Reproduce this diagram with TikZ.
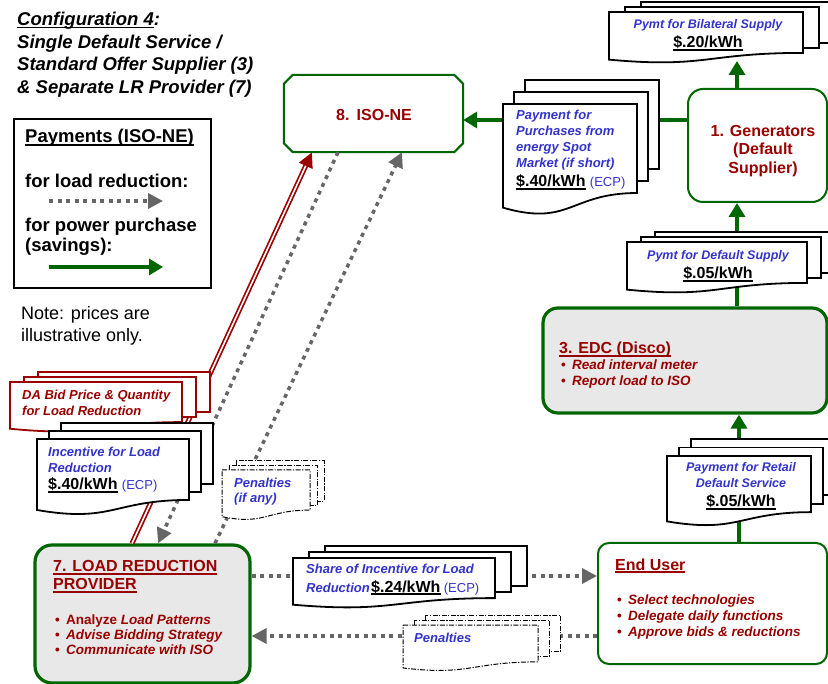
\documentclass[tikz,border=0pt]{standalone}
\usepackage{fontspec}
\setmainfont{Liberation Sans}
\usetikzlibrary{arrows.meta,calc}
\definecolor{dred}{RGB}{153,0,0}
\definecolor{tblue}{RGB}{51,51,204}
\definecolor{dgreen}{RGB}{0,102,0}
\definecolor{agray}{RGB}{102,102,102}
\definecolor{bgray}{RGB}{232,232,232}
\newcommand\myul[1]{\setbox0\hbox{#1}\rlap{\rule[-2.8pt]{\wd0}{1.6pt}}\box0}
\newcommand\bpt{\makebox[11pt][l]{\upshape •}}
\newcommand\mdoc[7]{%
 \foreach \k in {2,1}{\path[#1] ({#2+\k*#6},{#3-\k*#7}) rectangle ({#2+#4+\k*#6},{#3+0.802*#5-\k*#7});}
 \path[#1] (#2,#3) -- ({#2+#4},#3) -- ({#2+#4},{#3+0.802*#5}) .. controls ({#2+0.5*#4},{#3+0.802*#5}) and ({#2+0.5*#4},{#3+1.1075*#5}) .. (#2,{#3+0.934*#5}) -- cycle;}
\tikzset{
 every node/.style={inner sep=0pt},
 title/.style={anchor=base west, font=\fontsize{18.5}{22}\selectfont\bfseries\itshape},
 legt/.style={anchor=base west, font=\fontsize{18.5}{20}\selectfont\bfseries},
 notet/.style={anchor=base west, font=\fontsize{18}{20}\selectfont},
 lbl/.style={anchor=base west, font=\fontsize{13}{16}\selectfont\bfseries\itshape, text=tblue},
 lblc/.style={anchor=base, font=\fontsize{12.5}{16}\selectfont\bfseries\itshape, text=tblue},
 price/.style={anchor=base west, font=\fontsize{16}{18}\selectfont\bfseries},
 pricec/.style={price, anchor=base},
 ecp/.style={anchor=base west, font=\fontsize{13}{16}\selectfont, text=tblue},
 doc/.style={draw=black, fill=white, line width=1.8pt},
 reddoc/.style={draw=dred, fill=white, line width=1.8pt},
 dashdoc/.style={draw=black, fill=white, line width=1pt, dash pattern=on 5pt off 1.5pt on 1.2pt off 1.5pt},
 garrow/.style={draw=dgreen, line width=4pt, -{Triangle[length=14pt,width=16pt]}},
 darrow/.style={draw=agray, line width=3.5pt, dash pattern=on 4pt off 4.5pt, -{Triangle[length=15pt,width=15pt]}},
 redarrow/.style={draw=dred, line width=5pt, -{Triangle[length=15pt,width=14pt]}},
 boxtxt/.style={anchor=base, font=\fontsize{16}{19}\selectfont\bfseries, text=dred},
 head/.style={anchor=base west, font=\fontsize{16}{18}\selectfont\bfseries, text=dred},
 bul/.style={anchor=base west, font=\fontsize{13.5}{15}\selectfont\bfseries\itshape, text=dred},
 thickbox/.style={draw=dgreen, fill=bgray, line width=3.2pt, rounded corners=15pt},
 thinbox/.style={draw=dgreen, fill=white, line width=2pt},
}
\begin{document}
\begin{tikzpicture}[x=1pt,y=-1pt]
\useasboundingbox (0,0) rectangle (828,684);
\clip (0,0) rectangle (828,684);
\fill[white] (0,0) rectangle (828,684);

% ---------- title ----------
\node[title] (t1) at (17,25.5) {\myul{Configuration 4}:};
\node[title] (t2) at (17,48.5) {Single Default Service /};
\node[title] (t3) at (17,71) {Standard Offer Supplier (3)};
\node[title] (t4) at (17,94) {\& Separate LR Provider (7)};

% ---------- legend ----------
\node[draw, line width=2pt, minimum width=197pt, minimum height=169pt] (leg) at (112.5,203.5) {};
\node[legt] (lg1) at (25,143) {\myul{Payments (ISO-NE)}};
\node[legt] (lg2) at (25,188) {for load reduction:};
\node[legt] (lg3) at (25,232) {for power purchase};
\node[legt] (lg4) at (25,252) {(savings):};
\coordinate (la1) at (49,201); \coordinate (la2) at (163,201);
\coordinate (lb1) at (49,267); \coordinate (lb2) at (163,267);
\draw[darrow] (la1) -- (la2);
\draw[garrow] (lb1) -- (lb2);
\node[notet] (n1) at (21,320) {Note: prices are};
\node[notet] (n2) at (21,342) {illustrative only.};

% ---------- boxes ----------
\node[minimum width=179pt, minimum height=77pt] (iso) at (373.5,113.5) {};
\draw[dgreen, line width=2pt, fill=white] ([xshift=9pt]iso.north west) -- ([xshift=-9pt]iso.north east) -- ([yshift=-9pt]iso.north east) -- ([yshift=9pt]iso.south east) -- ([xshift=-9pt]iso.south east) -- ([xshift=9pt]iso.south west) -- ([yshift=9pt]iso.south west) -- ([yshift=-9pt]iso.north west) -- cycle;
\node[boxtxt] (isot) at (374,120.5) {8.\hspace{0.45em}ISO-NE};

\node[thinbox, rounded corners=15pt, minimum width=139pt, minimum height=113pt] (gen) at (757.5,145.5) {};
\node[boxtxt] (gen1) at (763,137) {1. Generators};
\node[boxtxt] (gen2) at (763,155) {(Default};
\node[boxtxt] (gen3) at (763,174) {Supplier)};

\node[thickbox, minimum width=284pt, minimum height=105pt] (edc) at (685,360.5) {};
\node[head] (edch) at (559,354) {\myul{3. EDC (Disco)}};
\node[bul] (edc1) at (561,370) {\bpt Read interval meter};
\node[bul] (edc2) at (561,386) {\bpt Report load to ISO};

\node[thinbox, rounded corners=11pt, minimum width=229pt, minimum height=121pt] (eu) at (712.5,603.5) {};
\node[head] (euh) at (615,570) {\myul{End User}};
\node[bul] (eu1) at (617,604) {\bpt Select technologies};
\node[bul] (eu2) at (617,620) {\bpt Delegate daily functions};
\node[bul] (eu3) at (617,636) {\bpt Approve bids \& reductions};

\node[thickbox, rounded corners=17pt, minimum width=215pt, minimum height=138pt] (lrp) at (142.5,614) {};
\node[head] (lrph1) at (53,572) {\myul{7. LOAD REDUCTION}};
\node[head] (lrph2) at (53,590) {\myul{PROVIDER}};
\node[bul] (lrp1) at (55,624) {\bpt{\upshape Analyze} Load Patterns};
\node[bul] (lrp2) at (55,639) {\bpt Advise Bidding Strategy};
\node[bul] (lrp3) at (55,654) {\bpt Communicate with ISO};

% ---------- connectors ----------
\coordinate (ya) at (0,120);
\coordinate (vx) at (737,0);
\coordinate (vx2) at (739,0);
\coordinate (yb) at (0,576);
\coordinate (yc) at (0,636);
\coordinate (r1) at (132,0); \coordinate (r2) at (312,0);
\coordinate (g1) at (338,0); \coordinate (g2) at (158,0);
\coordinate (g3) at (215,0); \coordinate (g4) at (402,0);
\coordinate (bilB) at (737,61);

\draw[garrow] (gen.west |- ya) -- (iso.east |- ya);
\draw[garrow] (edc.north -| vx) -- (gen.south -| vx);
\draw[garrow] (eu.north -| vx2) -- (edc.south -| vx2);
\draw[darrow] (lrp.east |- yb) -- (eu.west |- yb);
\draw[darrow] (eu.west |- yc) -- (lrp.east |- yc);
\draw[redarrow] (lrp.north -| r1) -- (iso.south -| r2);
\draw[white, line width=1.6pt, shorten >=15pt] (lrp.north -| r1) -- (iso.south -| r2);
\draw[darrow] (iso.south -| g1) -- (lrp.north -| g2);
\draw[darrow] (lrp.north -| g3) -- (iso.south -| g4);

% ---------- documents ----------
\mdoc{doc}{503}{104}{134}{111}{11}{12}
\node[lbl] (pay1) at (516,120) {Payment for};
\node[lbl] (pay2) at (516,136) {Purchases from};
\node[lbl] (pay3) at (516,152) {energy Spot};
\node[lbl] (pay4) at (516,168) {Market (if short)};
\node[price] (payp) at (516,187) {\myul{\$.40/kWh}};
\node[ecp] (paye) at ([xshift=4pt]payp.base east) {(ECP)};

\mdoc{doc}{609}{12}{194}{51}{16}{5}
\node[lblc] (bil1) at (708,29) {Pymt for Bilateral Supply};
\node[pricec] (bilp) at (708,48) {\myul{\$.20/kWh}};
\draw[garrow] (gen.north -| vx) -- (bilB);

\mdoc{doc}{627}{242}{180}{51}{14}{5}
\node[lblc] (def1) at (718,260) {Pymt for Default Supply};
\node[pricec] (defp) at (718,279) {\myul{\$.05/kWh}};

\mdoc{doc}{667}{456}{144}{70}{12}{8.5}
\node[lblc] (ret1) at (741,472) {Payment for Retail};
\node[lblc] (ret2) at (741,488) {Default Service};
\node[pricec] (retp) at (741,507) {\myul{\$.05/kWh}};

\mdoc{doc}{293}{558}{202}{50}{16}{6}
\node[lbl] (sh1) at (306,573) {Share of Incentive for Load};
\node[lbl] (sh2) at (306,592) {Reduction};
\node[price] (shp) at ([xshift=1pt]sh2.base east) {\myul{\$.24/kWh}};
\node[ecp] (she) at ([xshift=3pt]shp.base east) {(ECP)};

\mdoc{dashdoc}{403}{625}{135}{46}{11}{5}
\node[lbl] (pen1) at (414,642) {Penalties};

\mdoc{reddoc}{10}{382}{172}{50}{14}{5}
\node[lbl, text=dred] (da1) at (22,400) {DA Bid Price \& Quantity};
\node[lbl, text=dred] (da2) at (22,416) {for Load Reduction};

\mdoc{doc}{37}{439}{152}{76}{12}{8}
\node[lbl] (inc1) at (48,457) {Incentive for Load};
\node[lbl] (inc2) at (48,473) {Reduction};
\node[price] (incp) at (48,490) {\myul{\$.40/kWh}};
\node[ecp] (ince) at ([xshift=4pt]incp.base east) {(ECP)};

\mdoc{dashdoc}{222}{470}{88}{50}{7}{4.5}
\node[lbl] (pa1) at (234,488) {Penalties};
\node[lbl] (pa2) at (234,503) {(if any)};
\end{tikzpicture}
\end{document}
